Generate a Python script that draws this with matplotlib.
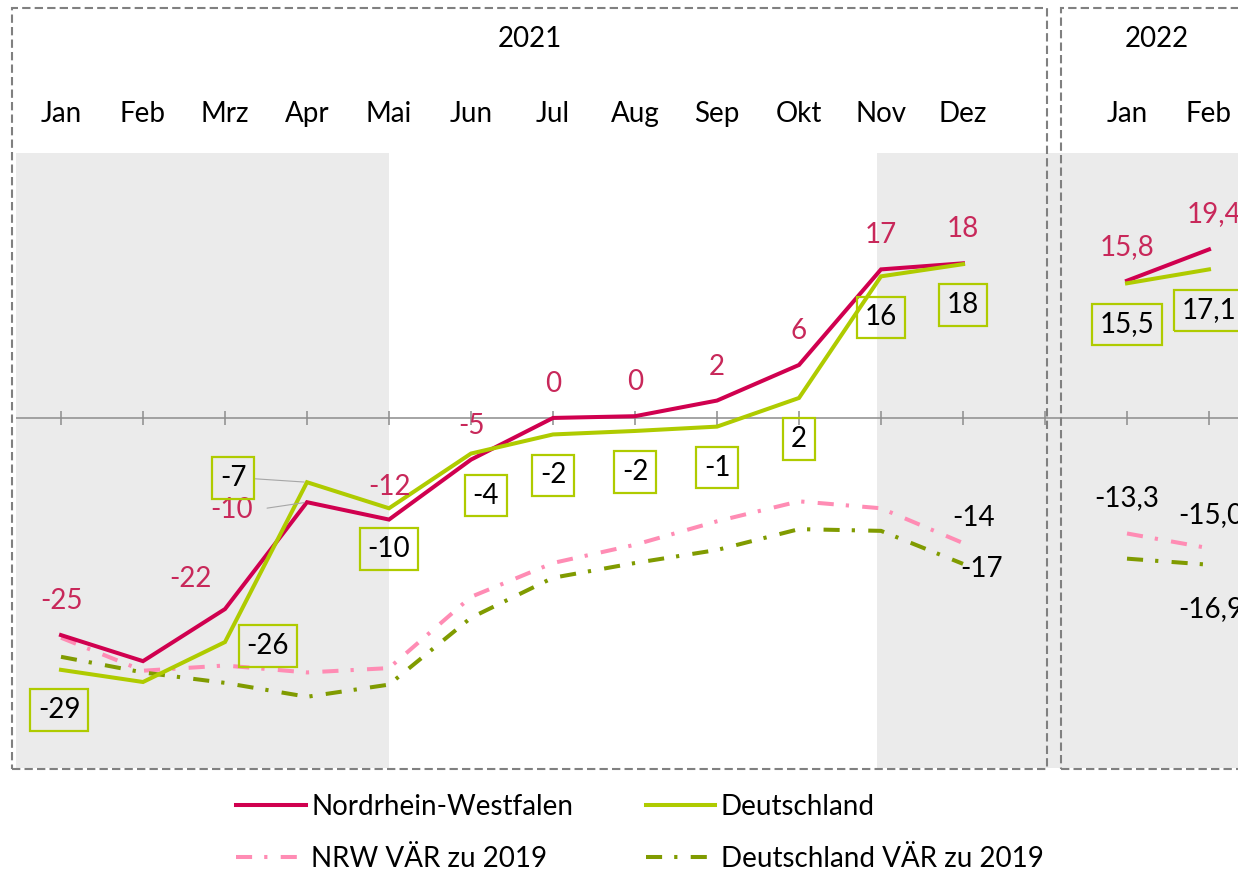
import numpy as np
import matplotlib
matplotlib.use("Agg")
import matplotlib.pyplot as plt
from matplotlib import transforms
from matplotlib.patches import Rectangle

plt.rcParams['font.family'] = ['Lato', 'DejaVu Sans']

# data (index 12 is the empty slot between the years)
months = ['Jan', 'Feb', 'Mrz', 'Apr', 'Mai', 'Jun', 'Jul', 'Aug', 'Sep', 'Okt', 'Nov', 'Dez', '', 'Jan', 'Feb']
years = ['2021', '2022']
nrw = [-25, -28, -22, -9.7, -11.7, -4.8, 0.0, 0.2, 2.0, 6.1, 17.1, 17.8, np.nan, 15.8, 19.4]
de = [-29, -30.4, -25.8, -7.4, -10.4, -4.1, -1.9, -1.5, -1.0, 2.3, 16.3, 17.7, np.nan, 15.5, 17.1]
nrw_vaer = [-25.3, -29.1, -28.5, -29.3, -28.8, -20.6, -16.7, -14.6, -11.9, -9.6, -10.4, -14.4, np.nan, -13.3, -15.0]
de_vaer = [-27.5, -29.3, -30.5, -32.1, -30.7, -23.0, -18.4, -16.7, -15.2, -12.8, -13.0, -16.8, np.nan, -16.2, -16.9]

c_nrw = '#D0004F'
c_de = '#AFCB00'
c_nrw_v = '#FF8CB4'
c_de_v = '#809B00'
W, H = 1238, 877

def fmt(v, i):
    if i > 12:
        return f"{v:.1f}".replace('.', ',')
    return f"{v:.0f}"

fig = plt.figure(figsize=(W / 100, H / 100), dpi=100)
ax = fig.add_axes([16 / W, 109 / H, 1 - 16 / W, 615 / H])
x = np.arange(len(months))
xl = ((16 - 61) / 82, (W - 61) / 82)
ax.set_xlim(*xl)
ax.set_ylim(-40.3, 30.5)
ax.axis('off')

ax.axvspan(xl[0], 4, color='#EBEBEB', lw=0, zorder=0)
ax.axvspan(9.95, xl[1], color='#EBEBEB', lw=0, zorder=0)
ax.axhline(0, color='#8C8C8C', lw=1.1, zorder=1)
ax.plot(x, np.zeros(len(x)), ls='none', marker='|', ms=10, mew=1.1, color='#8C8C8C', zorder=1)

dd = (0, (4, 3, 0.8, 3.3))
ax.plot(x, nrw_vaer, color=c_nrw_v, lw=2.9, ls=dd, zorder=2, label='NRW VÄR zu 2019')
ax.plot(x, de_vaer, color=c_de_v, lw=2.9, ls=dd, zorder=2, label='Deutschland VÄR zu 2019')
ax.plot(x, nrw, color=c_nrw, lw=2.9, zorder=3, label='Nordrhein-Westfalen', solid_joinstyle='miter')
ax.plot(x, de, color=c_de, lw=2.9, zorder=3, label='Deutschland', solid_joinstyle='miter')

fs = 20
lead = dict(arrowstyle='-', color='#A6A6A6', lw=0.8, relpos=(1, 0.5))

# NRW labels
off_nrw = {0: (0, 34), 2: (-35, 30), 3: (-75, -8), 4: (0, 33), 14: (5, 35)}
for i in range(len(x)):
    if i in (1, 12):
        continue
    dx, dy = off_nrw.get(i, (0, 34))
    kw = {}
    if i == 3:
        kw['arrowprops'] = dict(lead, shrinkA=8, shrinkB=2)
    ax.annotate(fmt(nrw[i], i), (x[i], nrw[i]), xytext=(dx, dy), textcoords='offset pixels',
                ha='center', va='center', fontsize=fs, color='#C8285A', zorder=5, **kw)

# Deutschland labels (boxed)
off_de = {0: (-2, -40), 2: (43, -4), 3: (-74, 4), 5: (15, -42)}
for i in range(len(x)):
    if i in (1, 12):
        continue
    dx, dy = off_de.get(i, (0, -41))
    kw = {}
    if i == 3:
        kw['arrowprops'] = dict(lead, shrinkA=0, shrinkB=2)
    ax.annotate(fmt(de[i], i), (x[i], de[i]), xytext=(dx, dy), textcoords='offset pixels',
                ha='center', va='center', fontsize=fs, color='black', zorder=5,
                bbox=dict(boxstyle='square,pad=0.28', fc='none', ec=c_de, lw=1.6), **kw)

# VÄR labels
for i, (dx, dy) in {11: (11, 25), 13: (0, 35), 14: (2, 33)}.items():
    ax.annotate(fmt(nrw_vaer[i], i), (x[i], nrw_vaer[i]), xytext=(dx, dy), textcoords='offset pixels',
                ha='center', va='center', fontsize=fs, color='black', zorder=5)
for i, (dx, dy) in {11: (19, -5), 14: (2, -44)}.items():
    ax.annotate(fmt(de_vaer[i], i), (x[i], de_vaer[i]), xytext=(dx, dy), textcoords='offset pixels',
                ha='center', va='center', fontsize=fs, color='black', zorder=5)

# month and year headers
tr = transforms.blended_transform_factory(ax.transData, fig.transFigure)
for i, m in enumerate(months):
    ax.text(x[i], 1 - 114 / H, m, transform=tr, ha='center', va='center', fontsize=fs, clip_on=False)
fig.text(530 / W, 1 - 39 / H, years[0], ha='center', va='center', fontsize=fs)
fig.text(1157 / W, 1 - 39 / H, years[1], ha='center', va='center', fontsize=fs)

# dashed group boxes
for x0, x1 in [(12, 1047), (1061, 1260)]:
    fig.add_artist(Rectangle((x0 / W, 1 - 769 / H), (x1 - x0) / W, 761 / H, transform=fig.transFigure,
                             fill=False, ec='#808080', lw=1.5, ls=(0, (4, 2)), zorder=6))

# legend: row 1 solid lines, row 2 VÄR lines
h, l = ax.get_legend_handles_labels()
order = [2, 0, 3, 1]
fig.legend([h[k] for k in order], [l[k] for k in order], ncol=2, loc='center',
           bbox_to_anchor=(640 / W, 1 - 833 / H), frameon=False, fontsize=fs,
           handlelength=2.5, handletextpad=0.2, columnspacing=2.6, labelspacing=0.95)

fig.savefig('out.png', dpi=100)
